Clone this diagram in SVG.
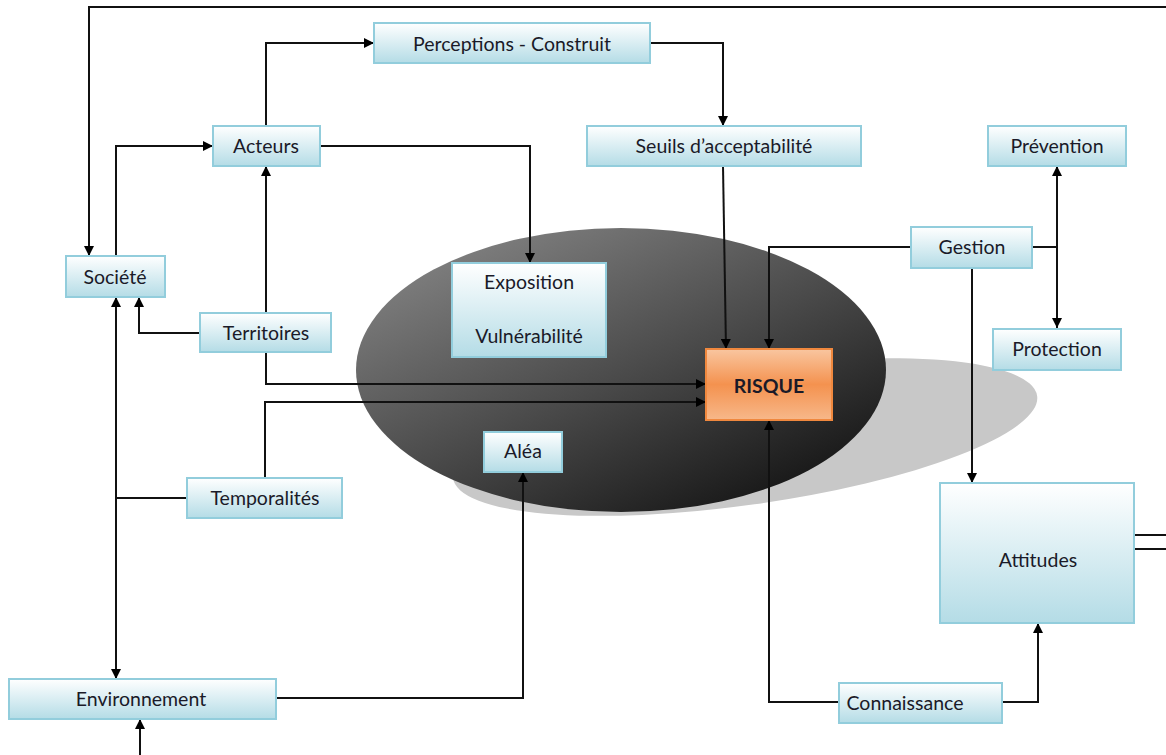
<svg xmlns="http://www.w3.org/2000/svg" width="1166" height="755" viewBox="0 0 1166 755">
<defs>
<linearGradient id="boxg" x1="0" y1="0" x2="0" y2="1">
<stop offset="0" stop-color="#ffffff"/>
<stop offset="1" stop-color="#b4dce6"/>
</linearGradient>
<linearGradient id="riskg" x1="0" y1="0" x2="0" y2="1">
<stop offset="0" stop-color="#f9c6a0"/>
<stop offset="0.5" stop-color="#f4924f"/>
<stop offset="1" stop-color="#f7b88a"/>
</linearGradient>
<linearGradient id="ellg" x1="0.15" y1="0.1" x2="0.85" y2="0.95">
<stop offset="0" stop-color="#7e7e7e"/>
<stop offset="0.5" stop-color="#4a4a4a"/>
<stop offset="1" stop-color="#141414"/>
</linearGradient>
<marker id="arr" viewBox="0 0 10 10" refX="10" refY="5" markerWidth="10" markerHeight="10" markerUnits="userSpaceOnUse" orient="auto">
<path d="M0,0 L10,5 L0,10 z" fill="#000"/>
</marker>
<style>
.box{fill:url(#boxg);stroke:#92cddc;stroke-width:2}
.risk{fill:url(#riskg);stroke:#f0883e;stroke-width:2}
.t{font-family:Lato,"Liberation Sans",sans-serif;font-size:19.5px;fill:#1a1a28;text-anchor:middle;dominant-baseline:central}
.tb{font-weight:bold}
.c{fill:none;stroke:#111;stroke-width:2}
.a{marker-end:url(#arr)}
</style>
</defs>
<rect width="1166" height="755" fill="#fff"/>
<g id="background">
<ellipse cx="745" cy="437" rx="295" ry="68" transform="rotate(-8 745 437)" fill="#c8c8c8"/>
<ellipse cx="621" cy="370" rx="265" ry="142" fill="url(#ellg)"/>
</g>
<g id="connectors">
<path class="c" d="M1166,7 H89 V256" marker-end="url(#arr)"/>
<path class="c a" d="M116,256 V146 H213"/>
<path class="c a" d="M266,126 V43 H374"/>
<path class="c a" d="M320,146 H530 V263"/>
<path class="c a" d="M650,43 H723 V126"/>
<path class="c a" d="M723,166 L726,349"/>
<path class="c a" d="M911,247 H769 V349"/>
<path class="c" d="M1032,247 H1057"/>
<path class="c a" d="M1057,247 V166"/>
<path class="c a" d="M1057,247 V328"/>
<path class="c a" d="M972,268 V483"/>
<path class="c a" d="M839,702 H769 V420"/>
<path class="c a" d="M1002,702 H1038 V623"/>
<path class="c" d="M1134,535 H1166 M1134,549 H1166"/>
<path class="c a" d="M266,313 V166"/>
<path class="c a" d="M200,333 H139 V297"/>
<path class="c a" d="M266,352 V384 H706"/>
<path class="c a" d="M265,478 V402 H706"/>
<path class="c" d="M187,498 H116"/>
<path class="c a" d="M116,498 V297"/>
<path class="c a" d="M116,498 V679"/>
<path class="c a" d="M276,698 H523 V472"/>
<path class="c a" d="M140,755 V719"/>
</g>
<g id="perceptions"><rect class="box" x="374" y="23" width="276" height="40"/><text class="t" x="512" y="43">Perceptions - Construit</text></g>
<g id="acteurs"><rect class="box" x="213" y="126" width="107" height="40"/><text class="t" x="266" y="145">Acteurs</text></g>
<g id="seuils"><rect class="box" x="587" y="126" width="274" height="40"/><text class="t" x="724" y="145">Seuils d’acceptabilité</text></g>
<g id="prevention"><rect class="box" x="988" y="126" width="138" height="40"/><text class="t" x="1057" y="145">Prévention</text></g>
<g id="gestion"><rect class="box" x="911" y="227" width="121" height="41"/><text class="t" x="972" y="246">Gestion</text></g>
<g id="protection"><rect class="box" x="993" y="329" width="128" height="41"/><text class="t" x="1057" y="348">Protection</text></g>
<g id="societe"><rect class="box" x="66" y="256" width="99" height="41"/><text class="t" x="115" y="276">Société</text></g>
<g id="territoires"><rect class="box" x="200" y="313" width="131" height="39"/><text class="t" x="266" y="332">Territoires</text></g>
<g id="exposition"><rect class="box" x="452" y="263" width="154" height="94"/><text class="t" x="529" y="281">Exposition</text><text class="t" x="529" y="335">Vulnérabilité</text></g>
<g id="risque"><rect class="risk" x="706" y="349" width="126" height="71"/><text class="t tb" x="769" y="385">RISQUE</text></g>
<g id="alea"><rect class="box" x="484" y="432" width="78" height="40"/><text class="t" x="523" y="450">Aléa</text></g>
<g id="temporalites"><rect class="box" x="187" y="478" width="155" height="40"/><text class="t" x="265" y="497">Temporalités</text></g>
<g id="attitudes"><rect class="box" x="940" y="483" width="194" height="140"/><text class="t" x="1038" y="559">Attitudes</text></g>
<g id="environnement"><rect class="box" x="9" y="679" width="267" height="40"/><text class="t" x="141" y="698">Environnement</text></g>
<g id="connaissance"><rect class="box" x="839" y="683" width="163" height="40"/><text class="t" x="905" y="702">Connaissance</text></g>
</svg>
